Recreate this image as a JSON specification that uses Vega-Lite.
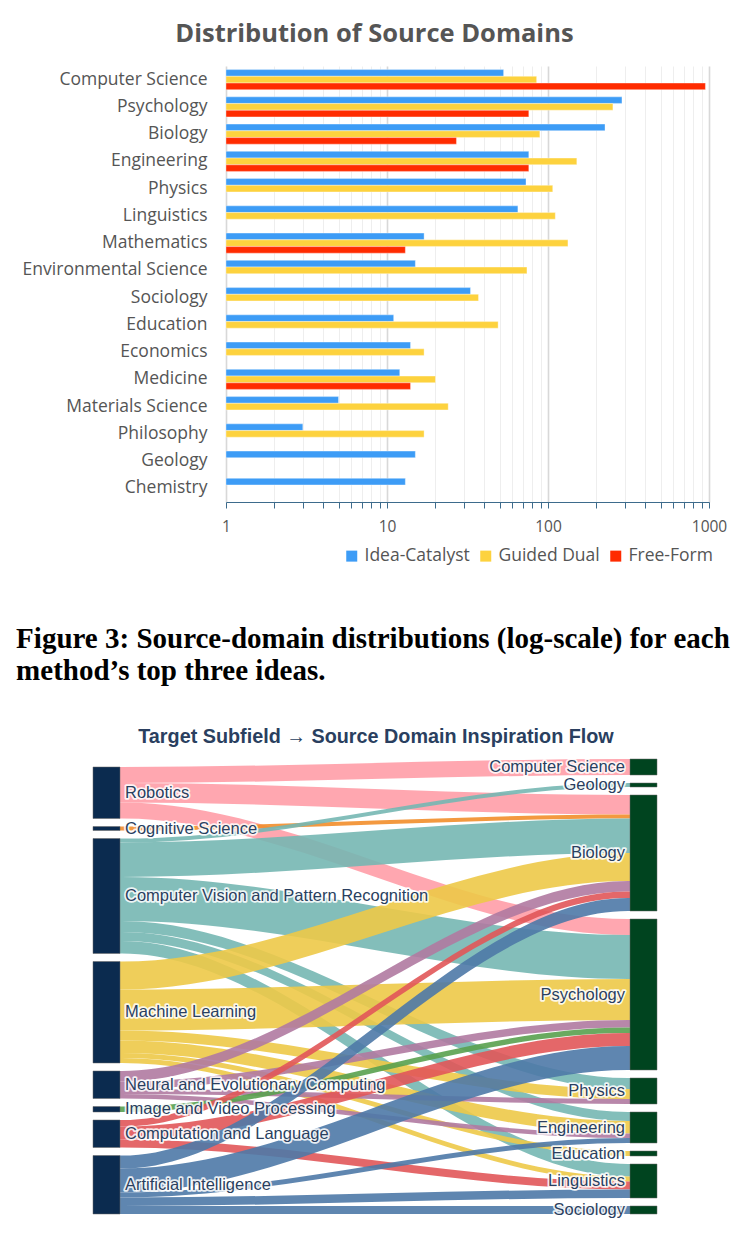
{
  "$schema": "https://vega.github.io/schema/vega-lite/v6.json",
  "padding": {"left": 16, "top": 21, "right": 0, "bottom": 0},
  "background": "white",
  "config": {"view": {"stroke": null}},
  "datasets": {
    "domains": [
      {"domain": "Computer Science", "method": "Idea-Catalyst", "count": 53},
      {"domain": "Computer Science", "method": "Guided Dual", "count": 85},
      {"domain": "Computer Science", "method": "Free-Form", "count": 950},
      {"domain": "Psychology", "method": "Idea-Catalyst", "count": 288},
      {"domain": "Psychology", "method": "Guided Dual", "count": 253},
      {"domain": "Psychology", "method": "Free-Form", "count": 76},
      {"domain": "Biology", "method": "Idea-Catalyst", "count": 226},
      {"domain": "Biology", "method": "Guided Dual", "count": 89},
      {"domain": "Biology", "method": "Free-Form", "count": 27},
      {"domain": "Engineering", "method": "Idea-Catalyst", "count": 76},
      {"domain": "Engineering", "method": "Guided Dual", "count": 151},
      {"domain": "Engineering", "method": "Free-Form", "count": 76},
      {"domain": "Physics", "method": "Idea-Catalyst", "count": 73},
      {"domain": "Physics", "method": "Guided Dual", "count": 107},
      {"domain": "Linguistics", "method": "Idea-Catalyst", "count": 65},
      {"domain": "Linguistics", "method": "Guided Dual", "count": 111},
      {"domain": "Mathematics", "method": "Idea-Catalyst", "count": 17},
      {"domain": "Mathematics", "method": "Guided Dual", "count": 133},
      {"domain": "Mathematics", "method": "Free-Form", "count": 13},
      {"domain": "Environmental Science", "method": "Idea-Catalyst", "count": 15},
      {"domain": "Environmental Science", "method": "Guided Dual", "count": 74},
      {"domain": "Sociology", "method": "Idea-Catalyst", "count": 33},
      {"domain": "Sociology", "method": "Guided Dual", "count": 37},
      {"domain": "Education", "method": "Idea-Catalyst", "count": 11},
      {"domain": "Education", "method": "Guided Dual", "count": 49},
      {"domain": "Economics", "method": "Idea-Catalyst", "count": 14},
      {"domain": "Economics", "method": "Guided Dual", "count": 17},
      {"domain": "Medicine", "method": "Idea-Catalyst", "count": 12},
      {"domain": "Medicine", "method": "Guided Dual", "count": 20},
      {"domain": "Medicine", "method": "Free-Form", "count": 14},
      {"domain": "Materials Science", "method": "Idea-Catalyst", "count": 5},
      {"domain": "Materials Science", "method": "Guided Dual", "count": 24},
      {"domain": "Philosophy", "method": "Idea-Catalyst", "count": 3},
      {"domain": "Philosophy", "method": "Guided Dual", "count": 17},
      {"domain": "Geology", "method": "Idea-Catalyst", "count": 15},
      {"domain": "Chemistry", "method": "Idea-Catalyst", "count": 13}
    ],
    "nodes": [
      {"name": "Robotics", "rank": 0},
      {"name": "Cognitive Science", "rank": 1},
      {"name": "Computer Vision and Pattern Recognition", "rank": 2},
      {"name": "Machine Learning", "rank": 3},
      {"name": "Neural and Evolutionary Computing", "rank": 4},
      {"name": "Image and Video Processing", "rank": 5},
      {"name": "Computation and Language", "rank": 6},
      {"name": "Artificial Intelligence", "rank": 7},
      {"name": "Computer Science", "rank": 0},
      {"name": "Geology", "rank": 1},
      {"name": "Biology", "rank": 2},
      {"name": "Psychology", "rank": 3},
      {"name": "Physics", "rank": 4},
      {"name": "Engineering", "rank": 5},
      {"name": "Education", "rank": 6},
      {"name": "Linguistics", "rank": 7},
      {"name": "Sociology", "rank": 8}
    ],
    "links": [
      {"source": "Robotics", "target": "Computer Science", "value": 16},
      {"source": "Robotics", "target": "Biology", "value": 19.5},
      {"source": "Robotics", "target": "Psychology", "value": 16},
      {"source": "Cognitive Science", "target": "Biology", "value": 4},
      {"source": "Computer Vision and Pattern Recognition", "target": "Geology", "value": 4},
      {"source": "Computer Vision and Pattern Recognition", "target": "Biology", "value": 34.5},
      {"source": "Computer Vision and Pattern Recognition", "target": "Psychology", "value": 44},
      {"source": "Computer Vision and Pattern Recognition", "target": "Physics", "value": 11},
      {"source": "Computer Vision and Pattern Recognition", "target": "Engineering", "value": 9},
      {"source": "Computer Vision and Pattern Recognition", "target": "Linguistics", "value": 12.5},
      {"source": "Machine Learning", "target": "Biology", "value": 28},
      {"source": "Machine Learning", "target": "Psychology", "value": 41},
      {"source": "Machine Learning", "target": "Physics", "value": 10},
      {"source": "Machine Learning", "target": "Engineering", "value": 12.5},
      {"source": "Machine Learning", "target": "Education", "value": 5},
      {"source": "Machine Learning", "target": "Linguistics", "value": 5},
      {"source": "Neural and Evolutionary Computing", "target": "Biology", "value": 10.5},
      {"source": "Neural and Evolutionary Computing", "target": "Psychology", "value": 7.5},
      {"source": "Neural and Evolutionary Computing", "target": "Physics", "value": 5},
      {"source": "Neural and Evolutionary Computing", "target": "Engineering", "value": 4.5},
      {"source": "Image and Video Processing", "target": "Psychology", "value": 5.5},
      {"source": "Computation and Language", "target": "Biology", "value": 6.5},
      {"source": "Computation and Language", "target": "Psychology", "value": 13},
      {"source": "Computation and Language", "target": "Linguistics", "value": 8},
      {"source": "Artificial Intelligence", "target": "Biology", "value": 13},
      {"source": "Artificial Intelligence", "target": "Psychology", "value": 24},
      {"source": "Artificial Intelligence", "target": "Engineering", "value": 5},
      {"source": "Artificial Intelligence", "target": "Linguistics", "value": 8.5},
      {"source": "Artificial Intelligence", "target": "Sociology", "value": 8}
    ]
  },
  "spacing": 40,
  "resolve": {"scale": {"color": "independent", "x": "independent", "y": "independent"}, "legend": {"color": "independent"}},
  "vconcat": [
    {
      "title": {
        "text": ["Figure 3: Source-domain distributions (log-scale) for each", "method’s top three ideas."],
        "orient": "bottom", "anchor": "start", "frame": "bounds",
        "font": "Liberation Serif", "fontSize": 29, "fontWeight": "bold", "color": "#000000",
        "lineHeight": 32, "offset": 60, "dx": -6
      },
      "vconcat": [
        {
          "title": {"text": "Distribution of Source Domains", "font": "Open Sans", "fontSize": 25.5, "fontWeight": "bold", "color": "#555555", "anchor": "middle", "frame": "bounds", "offset": 19},
          "width": 483,
          "height": 436,
          "data": {"name": "domains"},
          "mark": {"type": "bar", "stroke": "#ffffff", "strokeOpacity": 0.35, "strokeWidth": 1},
          "encoding": {
            "y": {
              "field": "domain", "type": "nominal",
              "sort": ["Computer Science", "Psychology", "Biology", "Engineering", "Physics", "Linguistics", "Mathematics", "Environmental Science", "Sociology", "Education", "Economics", "Medicine", "Materials Science", "Philosophy", "Geology", "Chemistry"],
              "scale": {"paddingInner": 0.266, "paddingOuter": 0.133},
              "axis": {"title": null, "domain": false, "ticks": false, "labelFont": "Open Sans", "labelFontSize": 17.5, "labelColor": "#555555", "labelPadding": 19, "labelLimit": 400}
            },
            "yOffset": {
              "field": "method", "type": "nominal",
              "sort": ["Idea-Catalyst", "Guided Dual", "Free-Form"],
              "scale": {"domain": ["Idea-Catalyst", "Guided Dual", "Free-Form"], "paddingInner": 0.03}
            },
            "x": {
              "field": "count", "type": "quantitative",
              "scale": {"type": "log", "domain": [1, 1000], "nice": false},
              "axis": {
                "title": null,
                "values": [1, 2, 3, 4, 5, 6, 7, 8, 9, 10, 20, 30, 40, 50, 60, 70, 80, 90, 100, 200, 300, 400, 500, 600, 700, 800, 900, 1000],
                "format": "d",
                "labelExpr": "(datum.value == 1 || datum.value == 10 || datum.value == 100 || datum.value == 1000) ? datum.label : ''",
                "labelOverlap": false, "labelFlush": false,
                "labelFont": "Open Sans", "labelFontSize": 15.5, "labelColor": "#555555", "labelPadding": 11,
                "domainColor": "#3d6b8c", "tickColor": "#3d6b8c", "tickSize": 6,
                "grid": true,
                "gridColor": {"condition": {"test": "datum.value == 1 || datum.value == 10 || datum.value == 100 || datum.value == 1000", "value": "#d8d8d8"}, "value": "#eeeeee"},
                "gridWidth": {"condition": {"test": "datum.value == 1 || datum.value == 10 || datum.value == 100 || datum.value == 1000", "value": 1.6}, "value": 1}
              }
            },
            "x2": {"datum": 1},
            "color": {
              "field": "method", "type": "nominal",
              "scale": {"domain": ["Idea-Catalyst", "Guided Dual", "Free-Form"], "range": ["#3d9cf6", "#fdd23e", "#ff2b00"]},
              "legend": {"title": null, "orient": "none", "legendX": 117, "legendY": 481, "direction": "horizontal", "symbolType": "square", "symbolSize": 121, "symbolStrokeWidth": 0, "labelFont": "Open Sans", "labelFontSize": 17.5, "labelColor": "#555555", "columnPadding": 7, "labelOffset": 4}
            }
          }
        }
      ]
    },
    {
      "title": {"text": "Target Subfield → Source Domain Inspiration Flow", "font": "Liberation Sans", "fontSize": 19.8, "fontWeight": "bold", "color": "#2a3f5f", "anchor": "middle", "frame": "bounds", "offset": 12, "dx": 1},
      "width": 431,
      "height": 455,
      "data": {"name": "links"},
      "transform": [
        {"lookup": "source", "from": {"data": {"name": "nodes"}, "key": "name", "fields": ["rank"]}, "as": ["sr"]},
        {"lookup": "target", "from": {"data": {"name": "nodes"}, "key": "name", "fields": ["rank"]}, "as": ["tr"]},
        {"joinaggregate": [{"op": "distinct", "field": "source", "as": "nS"}, {"op": "distinct", "field": "target", "as": "nT"}]},
        {"window": [{"op": "sum", "field": "value", "as": "cumS"}], "sort": [{"field": "sr"}, {"field": "tr"}], "frame": [null, 0]},
        {"window": [{"op": "sum", "field": "value", "as": "cumT"}], "sort": [{"field": "tr"}, {"field": "sr"}], "frame": [null, 0]},
        {"calculate": "datum.cumS - datum.value + datum.sr * 8 + max(0, datum.nT - datum.nS) * 8", "as": "ys0"},
        {"calculate": "datum.ys0 + datum.value", "as": "ys1"},
        {"calculate": "datum.cumT - datum.value + datum.tr * 8 + max(0, datum.nS - datum.nT) * 8", "as": "yt0"},
        {"calculate": "datum.yt0 + datum.value", "as": "yt1"}
      ],
      "layer": [
        {
          "transform": [
            {"calculate": "datum.ys0", "as": "ysA"},
            {"calculate": "datum.yt0", "as": "ytA"},
            {"fold": ["ys0", "ysA", "ytA", "yt0"], "as": ["pt", "top"]},
            {"calculate": "datum.pt == 'ys0' ? 27 : datum.pt == 'ysA' ? 29 : datum.pt == 'ytA' ? 535 : 537", "as": "px"},
            {"calculate": "datum.top + datum.value", "as": "bot"}
          ],
          "mark": {"type": "area", "interpolate": "monotone", "opacity": 0.9},
          "encoding": {
            "x": {"field": "px", "type": "quantitative", "scale": {"domain": [133, 564], "nice": false, "zero": false}, "axis": null},
            "y": {"field": "top", "type": "quantitative", "stack": null, "scale": {"domain": [0, 455], "reverse": true, "nice": false, "zero": false}, "axis": null},
            "y2": {"field": "bot"},
            "detail": [{"field": "source"}, {"field": "target"}],
            "color": {
              "field": "source", "type": "nominal", "legend": null,
              "scale": {
                "domain": ["Robotics", "Cognitive Science", "Computer Vision and Pattern Recognition", "Machine Learning", "Neural and Evolutionary Computing", "Image and Video Processing", "Computation and Language", "Artificial Intelligence"],
                "range": ["#ff9da7", "#f28e2b", "#76b7b2", "#edc948", "#b07aa1", "#59a14f", "#e15759", "#4e79a7"]
              }
            }
          }
        },
        {
          "transform": [{"aggregate": [{"op": "min", "field": "ys0", "as": "n0"}, {"op": "max", "field": "ys1", "as": "n1"}], "groupby": ["source"]}],
          "mark": {"type": "rect", "fill": "#0b2b4f", "stroke": "#666666", "strokeWidth": 0.5},
          "encoding": {
            "x": {"datum": 0, "type": "quantitative"},
            "x2": {"datum": 27},
            "y": {"field": "n0", "type": "quantitative"},
            "y2": {"field": "n1"}
          }
        },
        {
          "transform": [{"aggregate": [{"op": "min", "field": "yt0", "as": "n0"}, {"op": "max", "field": "yt1", "as": "n1"}], "groupby": ["target"]}],
          "mark": {"type": "rect", "fill": "#00441f", "stroke": "#666666", "strokeWidth": 0.5},
          "encoding": {
            "x": {"datum": 537, "type": "quantitative"},
            "x2": {"datum": 564},
            "y": {"field": "n0", "type": "quantitative"},
            "y2": {"field": "n1"}
          }
        },
        {
          "transform": [
            {"aggregate": [{"op": "min", "field": "ys0", "as": "n0"}, {"op": "max", "field": "ys1", "as": "n1"}], "groupby": ["source"]},
            {"calculate": "(datum.n0 + datum.n1) / 2", "as": "mid"}
          ],
          "mark": {"type": "text", "align": "left", "baseline": "middle", "font": "Liberation Sans", "fontSize": 16.5, "fill": "#ffffff", "stroke": "#ffffff", "strokeWidth": 3.5, "strokeOpacity": 0.85, "strokeJoin": "round"},
          "encoding": {
            "x": {"datum": 32, "type": "quantitative"},
            "y": {"field": "mid", "type": "quantitative"},
            "text": {"field": "source"}
          }
        },
        {
          "transform": [
            {"aggregate": [{"op": "min", "field": "ys0", "as": "n0"}, {"op": "max", "field": "ys1", "as": "n1"}], "groupby": ["source"]},
            {"calculate": "(datum.n0 + datum.n1) / 2", "as": "mid"}
          ],
          "mark": {"type": "text", "align": "left", "baseline": "middle", "font": "Liberation Sans", "fontSize": 16.5, "fill": "#2a3f5f"},
          "encoding": {
            "x": {"datum": 32, "type": "quantitative"},
            "y": {"field": "mid", "type": "quantitative"},
            "text": {"field": "source"}
          }
        },
        {
          "transform": [
            {"aggregate": [{"op": "min", "field": "yt0", "as": "n0"}, {"op": "max", "field": "yt1", "as": "n1"}], "groupby": ["target"]},
            {"calculate": "(datum.n0 + datum.n1) / 2", "as": "mid"}
          ],
          "mark": {"type": "text", "align": "right", "baseline": "middle", "font": "Liberation Sans", "fontSize": 16.5, "fill": "#ffffff", "stroke": "#ffffff", "strokeWidth": 3.5, "strokeOpacity": 0.85, "strokeJoin": "round"},
          "encoding": {
            "x": {"datum": 532, "type": "quantitative"},
            "y": {"field": "mid", "type": "quantitative"},
            "text": {"field": "target"}
          }
        },
        {
          "transform": [
            {"aggregate": [{"op": "min", "field": "yt0", "as": "n0"}, {"op": "max", "field": "yt1", "as": "n1"}], "groupby": ["target"]},
            {"calculate": "(datum.n0 + datum.n1) / 2", "as": "mid"}
          ],
          "mark": {"type": "text", "align": "right", "baseline": "middle", "font": "Liberation Sans", "fontSize": 16.5, "fill": "#2a3f5f"},
          "encoding": {
            "x": {"datum": 532, "type": "quantitative"},
            "y": {"field": "mid", "type": "quantitative"},
            "text": {"field": "target"}
          }
        }
      ]
    }
  ]
}
